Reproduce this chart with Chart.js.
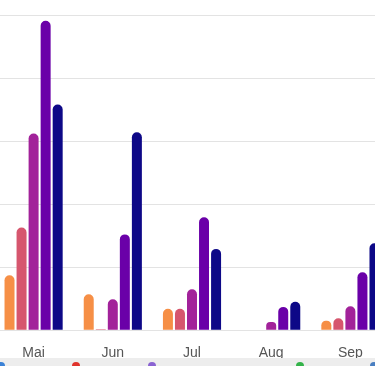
<!DOCTYPE html>
<html lang="de">
<head>
    <meta charset="UTF-8">
    <title>Monatswerte</title>
    <script src="https://cdn.jsdelivr.net/npm/chart.js"></script>
    <style>
        html, body { margin: 0; padding: 0; background: #fff; overflow: hidden; }
        #wrap { position: relative; width: 375px; height: 366px; overflow: hidden; }
        #chartBox { position: absolute; left: -6px; top: 0; width: 396px; height: 369px; }
        /* grey strip at the bottom of the screenshot */
        #strip { position: absolute; left: 0; top: 358px; width: 375px; height: 8px; background: #ededed; }
        #strip span { position: absolute; top: 4px; width: 8px; height: 8px; border-radius: 50%; }
    </style>
</head>
<body>
<div id="wrap">
    <div id="chartBox"><canvas id="myChart"></canvas></div>
    <div id="strip">
        <span style="left:-3px;background:#3b82d6"></span>
        <span style="left:72px;background:#e0342c"></span>
        <span style="left:148px;background:#8a63d2"></span>
        <span style="left:296px;background:#34b34a"></span>
        <span style="left:370px;background:#4a7fc1"></span>
    </div>
</div>

<script>
    // months shown
    const months = ['Mai', 'Jun', 'Jul', 'Aug', 'Sep'];

    // one array per series
    const serie1 = [8.7, 5.7, 3.4, 0, 1.5];
    const serie2 = [16.3, 0.15, 3.4, 0, 1.9];
    const serie3 = [31.2, 4.9, 6.5, 1.3, 3.8];
    const serie4 = [49.1, 15.2, 17.9, 3.7, 9.2];
    const serie5 = [35.8, 31.4, 12.9, 4.5, 13.8];

    const seriesNames = ['2019', '2020', '2021', '2022', '2023'];
    const colors = ['#f68f46', '#d6566e', '#a2229a', '#6a00a8', '#0d0887'];

    const yTicks = [0, 10, 20, 30, 40, 50];

    const datasets = [serie1, serie2, serie3, serie4, serie5].map((values, i) => ({
        label: seriesNames[i],
        data: values,
        backgroundColor: colors[i],
        borderRadius: 5,
        borderSkipped: 'bottom',
        barPercentage: 0.83,
        categoryPercentage: 0.76
    }));

    const ctx = document.getElementById('myChart').getContext('2d');
    const myChart = new Chart(ctx, {
        type: 'bar',
        data: {
            labels: months,
            datasets: datasets
        },
        options: {
            responsive: true,
            maintainAspectRatio: false,
            animation: false,
            layout: {
                padding: { top: 15, left: 0, right: 0, bottom: 0 }
            },
            plugins: {
                legend: { display: false },
                tooltip: { enabled: false }
            },
            scales: {
                x: {
                    grid: { display: false },
                    border: { display: true, color: '#e3e3e3' },
                    ticks: {
                        color: '#555',
                        padding: 7,
                        font: { family: 'Liberation Sans', size: 14 }
                    }
                },
                y: {
                    min: yTicks[0],
                    max: yTicks[yTicks.length - 1],
                    afterBuildTicks: (axis) => {
                        axis.ticks = yTicks.map(v => ({ value: v }));
                    },
                    grid: { color: '#e3e3e3', drawTicks: false },
                    border: { display: false },
                    ticks: { display: false }
                }
            }
        }
    });
</script>
</body>
</html>
